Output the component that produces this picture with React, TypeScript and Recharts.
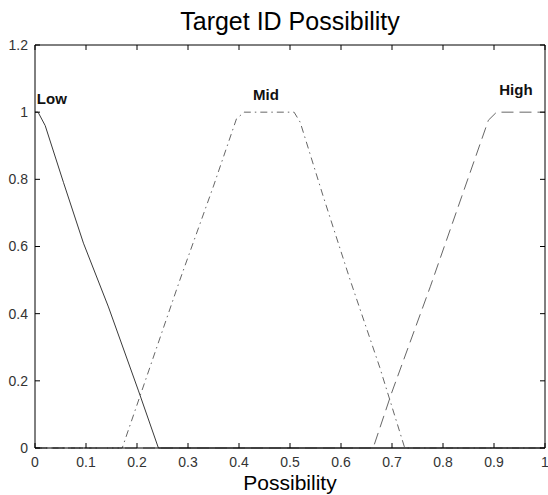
import React from 'react';
import {
  LineChart,
  Line,
  XAxis,
  YAxis,
  Label,
  ReferenceDot
} from 'recharts';

// membership curves
const lowX = [0, 0.006, 0.02, 0.056, 0.095, 0.144, 0.203, 0.242, 1];
const lowY = [1, 1, 0.96, 0.79, 0.61, 0.42, 0.17, 0, 0];

const midX = [0, 0.171, 0.284, 0.35, 0.395, 0.41, 0.508, 0.52, 0.565, 0.618, 0.676, 0.725, 1];
const midY = [0, 0, 0.5, 0.78, 0.98, 1, 1, 0.97, 0.75, 0.5, 0.24, 0, 0];

const highX = [0, 0.663, 0.699, 0.775, 0.837, 0.889, 0.905, 1];
const highY = [0, 0, 0.163, 0.48, 0.75, 0.976, 1, 1];

const xTicks = [0, 0.1, 0.2, 0.3, 0.4, 0.5, 0.6, 0.7, 0.8, 0.9, 1];
const yTicks = [0, 0.2, 0.4, 0.6, 0.8, 1, 1.2];

// curve names and where they sit
const curveNames = ['Low', 'Mid', 'High'];
const nameX = [0.033, 0.453, 0.943];
const nameY = [1.039, 1.051, 1.068];

const toPoints = (xs: number[], ys: number[]) => xs.map((x, i) => ({ x, y: ys[i] }));

const lowData = toPoints(lowX, lowY);
const midData = toPoints(midX, midY);
const highData = toPoints(highX, highY);

const FONT = '"Liberation Sans", Arial, Helvetica, sans-serif';
const tickFont = { fontSize: 14, fill: '#333', fontFamily: FONT };

// tick line only, no text (top / right side of the box)
const NoLabel = () => <g />;

export default function App() {
  return (
    <div style={{ position: 'absolute', left: 0, top: 0, background: '#fff' }}>
      <LineChart
        width={548}
        height={495}
        margin={{ top: 44, right: 2, bottom: 0, left: 0 }}
        style={{ fontFamily: FONT }}
      >
        {/* negative tickSize -> ticks point inside the box */}
        <XAxis
          dataKey="x"
          type="number"
          domain={[0, 1]}
          ticks={xTicks}
          interval={0}
          height={47}
          stroke="#000"
          tickSize={-5}
          tickMargin={14}
          tick={tickFont}
        >
          <Label
            value="Possibility"
            position="insideBottom"
            offset={5}
            fontSize={21}
            fill="#000"
          />
        </XAxis>
        {/* top + right axes only close the box (axis with 0 size isn't drawn) */}
        <XAxis
          xAxisId="top"
          orientation="top"
          dataKey="x"
          type="number"
          domain={[0, 1]}
          ticks={xTicks}
          interval={0}
          height={1}
          stroke="#000"
          tickSize={-5}
          tick={<NoLabel />}
        >
          <Label
            value="Target ID Possibility"
            position="top"
            offset={14}
            fontSize={25}
            fill="#000"
          />
        </XAxis>
        <YAxis
          type="number"
          domain={[0, 1.2]}
          ticks={yTicks}
          interval={0}
          width={35}
          stroke="#000"
          tickSize={-5}
          tickMargin={12}
          tick={tickFont}
        />
        <YAxis
          yAxisId="right"
          orientation="right"
          type="number"
          domain={[0, 1.2]}
          ticks={yTicks}
          interval={0}
          width={1}
          stroke="#000"
          tickSize={-5}
          tick={<NoLabel />}
        />

        <Line
          xAxisId="top"
          yAxisId="right"
          data={highData}
          dataKey="y"
          stroke="none"
          dot={false}
          activeDot={false}
          isAnimationActive={false}
        />

        <Line
          data={lowData}
          dataKey="y"
          type="linear"
          stroke="#3a3a3a"
          strokeWidth={1}
          dot={false}
          isAnimationActive={false}
        />
        <Line
          data={midData}
          dataKey="y"
          type="linear"
          stroke="#666"
          strokeWidth={1}
          strokeDasharray="7 4 1.5 4"
          dot={false}
          isAnimationActive={false}
        />
        <Line
          data={highData}
          dataKey="y"
          type="linear"
          stroke="#666"
          strokeWidth={1}
          strokeDasharray="12 6"
          dot={false}
          isAnimationActive={false}
        />

        {curveNames.map((name, i) => (
          <ReferenceDot
            key={name}
            x={nameX[i]}
            y={nameY[i]}
            r={1}
            fill="#fff"
            fillOpacity={0}
            stroke="none"
            label={{
              value: name,
              position: 'center',
              fontSize: 15,
              fontWeight: 'bold',
              fill: '#111'
            }}
          />
        ))}
      </LineChart>
    </div>
  );
}
